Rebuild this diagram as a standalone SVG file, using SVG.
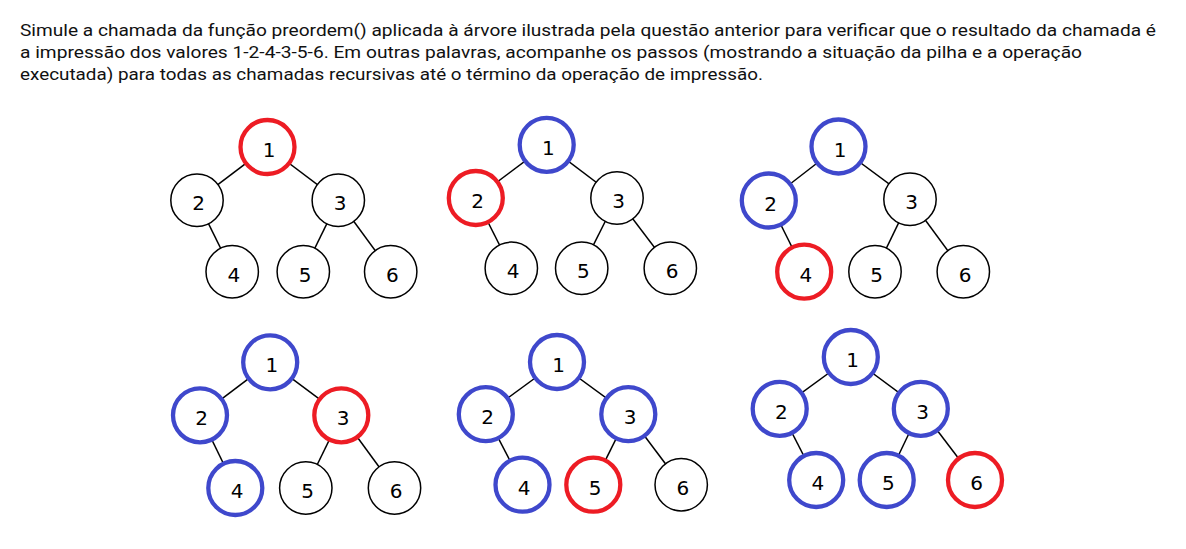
<svg xmlns="http://www.w3.org/2000/svg" width="1186" height="549" viewBox="0 0 1186 549">
<style>
.q{font-family:Roboto,"Liberation Sans",sans-serif;font-size:17px;fill:#111}
.e{stroke:#000;stroke-width:1.5}
.k{fill:#fff;stroke:#000;stroke-width:1.5}
.b{fill:#fff;stroke:#3F48CC;stroke-width:4.3}
.r{fill:#fff;stroke:#ED1C24;stroke-width:4.3}
.t{font-family:"DejaVu Sans",Verdana,sans-serif;font-size:20px;fill:#000;text-anchor:middle}
</style>
<rect width="1186" height="549" fill="#fff"/>
<g id="question">
<text class="q" x="20" y="36" textLength="1136" lengthAdjust="spacingAndGlyphs">Simule a chamada da função preordem() aplicada à árvore ilustrada pela questão anterior para verificar que o resultado da chamada é</text>
<text class="q" x="20" y="58" textLength="1062" lengthAdjust="spacingAndGlyphs">a impressão dos valores 1-2-4-3-5-6. Em outras palavras, acompanhe os passos (mostrando a situação da pilha e a operação</text>
<text class="q" x="20" y="80" textLength="743" lengthAdjust="spacingAndGlyphs">executada) para todas as chamadas recursivas até o término da operação de impressão.</text>
</g>
<g id="connectors">
<line class="e" x1="267.5" y1="147" x2="197" y2="200.3"/>
<line class="e" x1="267.5" y1="147" x2="338.3" y2="200.3"/>
<line class="e" x1="197" y1="200.3" x2="232.2" y2="271.7"/>
<line class="e" x1="338.3" y1="200.3" x2="303.3" y2="271.7"/>
<line class="e" x1="338.3" y1="200.3" x2="390.7" y2="271.7"/>
<line class="e" x1="546.7" y1="144.8" x2="475.8" y2="198"/>
<line class="e" x1="546.7" y1="144.8" x2="617" y2="198"/>
<line class="e" x1="475.8" y1="198" x2="511.3" y2="268.3"/>
<line class="e" x1="617" y1="198" x2="581.7" y2="268.3"/>
<line class="e" x1="617" y1="198" x2="670.3" y2="268.3"/>
<line class="e" x1="838.5" y1="146.5" x2="768.8" y2="200.5"/>
<line class="e" x1="838.5" y1="146.5" x2="910" y2="199.3"/>
<line class="e" x1="768.8" y1="200.5" x2="804.2" y2="271.7"/>
<line class="e" x1="910" y1="199.3" x2="875" y2="271.7"/>
<line class="e" x1="910" y1="199.3" x2="963.3" y2="271.7"/>
<line class="e" x1="270.2" y1="362.3" x2="200" y2="415.3"/>
<line class="e" x1="270.2" y1="362.3" x2="341.3" y2="415.3"/>
<line class="e" x1="200" y1="415.3" x2="235.3" y2="488"/>
<line class="e" x1="341.3" y1="415.3" x2="305.8" y2="488"/>
<line class="e" x1="341.3" y1="415.3" x2="394.5" y2="488"/>
<line class="e" x1="557" y1="362" x2="485.8" y2="414.2"/>
<line class="e" x1="557" y1="362" x2="628.3" y2="414.2"/>
<line class="e" x1="485.8" y1="414.2" x2="522.5" y2="484.7"/>
<line class="e" x1="628.3" y1="414.2" x2="593.3" y2="484.7"/>
<line class="e" x1="628.3" y1="414.2" x2="681.2" y2="484.7"/>
<line class="e" x1="850.8" y1="357" x2="779.7" y2="408.8"/>
<line class="e" x1="850.8" y1="357" x2="920.8" y2="408.8"/>
<line class="e" x1="779.7" y1="408.8" x2="816.2" y2="480"/>
<line class="e" x1="920.8" y1="408.8" x2="886.7" y2="480"/>
<line class="e" x1="920.8" y1="408.8" x2="975" y2="480"/>
</g>
<g id="tree1">
<g id="t1n1"><circle class="r" cx="267.5" cy="147" r="27"/><text class="t" x="269.2" y="157">1</text></g>
<g id="t1n2"><circle class="k" cx="197" cy="200.3" r="26.2"/><text class="t" x="198.7" y="210.3">2</text></g>
<g id="t1n3"><circle class="k" cx="338.3" cy="200.3" r="26.2"/><text class="t" x="340" y="210.3">3</text></g>
<g id="t1n4"><circle class="k" cx="232.2" cy="271.7" r="26.2"/><text class="t" x="233.9" y="281.7">4</text></g>
<g id="t1n5"><circle class="k" cx="303.3" cy="271.7" r="26.2"/><text class="t" x="305" y="281.7">5</text></g>
<g id="t1n6"><circle class="k" cx="390.7" cy="271.7" r="26.2"/><text class="t" x="392.4" y="281.7">6</text></g>
</g>
<g id="tree2">
<g id="t2n1"><circle class="b" cx="546.7" cy="144.8" r="27"/><text class="t" x="548.4" y="154.8">1</text></g>
<g id="t2n2"><circle class="r" cx="475.8" cy="198" r="27"/><text class="t" x="477.5" y="208">2</text></g>
<g id="t2n3"><circle class="k" cx="617" cy="198" r="26.2"/><text class="t" x="618.7" y="208">3</text></g>
<g id="t2n4"><circle class="k" cx="511.3" cy="268.3" r="26.2"/><text class="t" x="513" y="278.3">4</text></g>
<g id="t2n5"><circle class="k" cx="581.7" cy="268.3" r="26.2"/><text class="t" x="583.4" y="278.3">5</text></g>
<g id="t2n6"><circle class="k" cx="670.3" cy="268.3" r="26.2"/><text class="t" x="672" y="278.3">6</text></g>
</g>
<g id="tree3">
<g id="t3n1"><circle class="b" cx="838.5" cy="146.5" r="27"/><text class="t" x="840.2" y="156.5">1</text></g>
<g id="t3n2"><circle class="b" cx="768.8" cy="200.5" r="27"/><text class="t" x="770.5" y="210.5">2</text></g>
<g id="t3n3"><circle class="k" cx="910" cy="199.3" r="26.2"/><text class="t" x="911.7" y="209.3">3</text></g>
<g id="t3n4"><circle class="r" cx="804.2" cy="271.7" r="27"/><text class="t" x="805.9" y="281.7">4</text></g>
<g id="t3n5"><circle class="k" cx="875" cy="271.7" r="26.2"/><text class="t" x="876.7" y="281.7">5</text></g>
<g id="t3n6"><circle class="k" cx="963.3" cy="271.7" r="26.2"/><text class="t" x="965" y="281.7">6</text></g>
</g>
<g id="tree4">
<g id="t4n1"><circle class="b" cx="270.2" cy="362.3" r="27"/><text class="t" x="271.9" y="372.3">1</text></g>
<g id="t4n2"><circle class="b" cx="200" cy="415.3" r="27"/><text class="t" x="201.7" y="425.3">2</text></g>
<g id="t4n3"><circle class="r" cx="341.3" cy="415.3" r="27"/><text class="t" x="343" y="425.3">3</text></g>
<g id="t4n4"><circle class="b" cx="235.3" cy="488" r="27"/><text class="t" x="237" y="498">4</text></g>
<g id="t4n5"><circle class="k" cx="305.8" cy="488" r="26.2"/><text class="t" x="307.5" y="498">5</text></g>
<g id="t4n6"><circle class="k" cx="394.5" cy="488" r="26.2"/><text class="t" x="396.2" y="498">6</text></g>
</g>
<g id="tree5">
<g id="t5n1"><circle class="b" cx="557" cy="362" r="27"/><text class="t" x="558.7" y="372">1</text></g>
<g id="t5n2"><circle class="b" cx="485.8" cy="414.2" r="27"/><text class="t" x="487.5" y="424.2">2</text></g>
<g id="t5n3"><circle class="b" cx="628.3" cy="414.2" r="27"/><text class="t" x="630" y="424.2">3</text></g>
<g id="t5n4"><circle class="b" cx="522.5" cy="484.7" r="27"/><text class="t" x="524.2" y="494.7">4</text></g>
<g id="t5n5"><circle class="r" cx="593.3" cy="484.7" r="27"/><text class="t" x="595" y="494.7">5</text></g>
<g id="t5n6"><circle class="k" cx="681.2" cy="484.7" r="26.2"/><text class="t" x="682.9" y="494.7">6</text></g>
</g>
<g id="tree6">
<g id="t6n1"><circle class="b" cx="850.8" cy="357" r="27"/><text class="t" x="852.5" y="367">1</text></g>
<g id="t6n2"><circle class="b" cx="779.7" cy="408.8" r="27"/><text class="t" x="781.4" y="418.8">2</text></g>
<g id="t6n3"><circle class="b" cx="920.8" cy="408.8" r="27"/><text class="t" x="922.5" y="418.8">3</text></g>
<g id="t6n4"><circle class="b" cx="816.2" cy="480" r="27"/><text class="t" x="817.9" y="490">4</text></g>
<g id="t6n5"><circle class="b" cx="886.7" cy="480" r="27"/><text class="t" x="888.4" y="490">5</text></g>
<g id="t6n6"><circle class="r" cx="975" cy="480" r="27"/><text class="t" x="976.7" y="490">6</text></g>
</g>
</svg>
